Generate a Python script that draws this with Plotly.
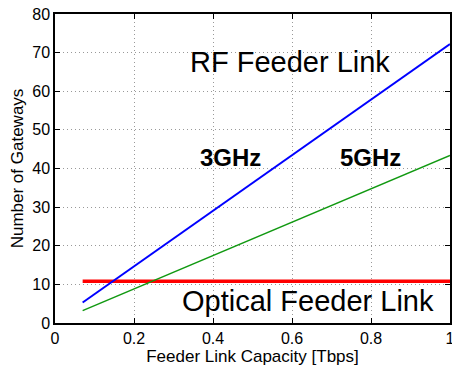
import plotly.graph_objects as go

capacity = [0.07, 1.0]
rf_3ghz = [5.3, 72.2]
rf_5ghz = [3.2, 43.4]
optical = [10.8, 10.8]

x_ticks = [0, 0.2, 0.4, 0.6, 0.8, 1]
x_tick_labels = ["0", "0.2", "0.4", "0.6", "0.8", "1"]
y_ticks = [0, 10, 20, 30, 40, 50, 60, 70, 80]

fig = go.Figure()
fig.add_trace(go.Scatter(x=capacity, y=optical, mode="lines",
                         line=dict(color="#ff0000", width=3.5), showlegend=False))
fig.add_trace(go.Scatter(x=capacity, y=rf_3ghz, mode="lines",
                         line=dict(color="#0000ff", width=2), showlegend=False))
fig.add_trace(go.Scatter(x=capacity, y=rf_5ghz, mode="lines",
                         line=dict(color="#119911", width=1.5), showlegend=False))

font = "Liberation Sans, Arial, sans-serif"
ann = [
    dict(x=0.596, y=67.6, text="RF Feeder Link", size=29),
    dict(x=0.444, y=42.8, text="<b>3GHz</b>", size=24),
    dict(x=0.798, y=42.8, text="<b>5GHz</b>", size=24),
    dict(x=0.64, y=5.7, text="Optical Feeder Link", size=29),
]
for a in ann:
    fig.add_annotation(x=a["x"], y=a["y"], text=a["text"], showarrow=False,
                       xanchor="center", yanchor="middle",
                       font=dict(family=font, size=a["size"], color="black"))

axis_common = dict(showline=True, linecolor="black", linewidth=1.5, mirror="ticks",
                   ticks="inside", ticklen=5, tickcolor="black",
                   showgrid=True, gridcolor="#999999", griddash="1px,3px", gridwidth=1,
                   zeroline=False, ticklabeloverflow="allow", automargin=False,
                   tickfont=dict(family=font, size=16, color="black"))

fig.update_xaxes(range=[0, 1], tickvals=x_ticks, ticktext=x_tick_labels,
                 title=dict(text="Feeder Link Capacity [Tbps]", standoff=2,
                            font=dict(family=font, size=17, color="black")),
                 **axis_common)
fig.update_yaxes(range=[0, 80], tickvals=y_ticks,
                 title=dict(text="Number of Gateways", standoff=4,
                            font=dict(family=font, size=17, color="black")),
                 **axis_common)

fig.update_layout(width=452, height=370, margin=dict(l=55, r=2, t=14, b=47),
                  plot_bgcolor="white", paper_bgcolor="white")
fig.write_html("out.html")
